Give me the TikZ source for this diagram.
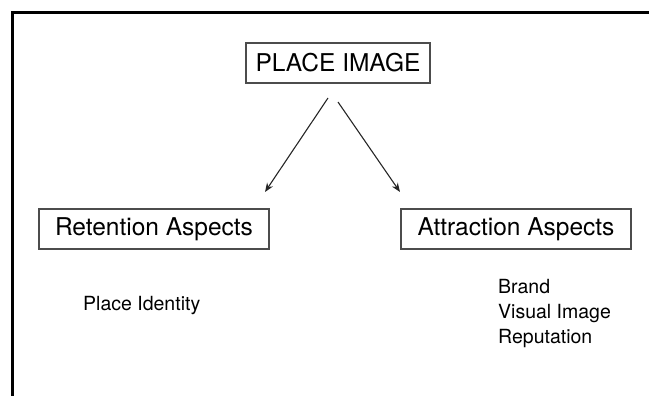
\documentclass[tikz,border=0pt]{standalone}
\usepackage{fontspec}
\setmainfont{TeX Gyre Heros}
\usetikzlibrary{arrows.meta}
\begin{document}
\begin{tikzpicture}[x=1pt,y=-1pt,
  box/.style={draw=black!70, line width=1.2pt, inner sep=0pt,
    minimum height=40pt, font=\fontsize{24.5}{29}\selectfont},
  item/.style={anchor=base west, inner sep=0pt,
    font=\fontsize{19.5}{23}\selectfont},
  link/.style={line width=1.1pt, draw=black!85,
    -{Stealth[length=9pt,width=7pt]}}]
\useasboundingbox (0,0) rectangle (649,396);
\clip (0,0) rectangle (649,396);
% outer frame (only top and left edges fall inside the page)
\draw[line width=3pt] (12.5,400) -- (12.5,12.5) -- (655,12.5);

% boxes
\node[box, minimum width=184pt] (img) at (338,63) {PLACE IMAGE};
\node[box, minimum width=230pt] (ret) at (154,229) {Retention Aspects};
\node[box, minimum width=230pt] (att) at (516,229) {Attraction Aspects};

% arrow end points
\coordinate (ls) at (328,98);
\coordinate (le) at (265,192);
\coordinate (rs) at (338,102);
\coordinate (re) at (400,192);
\draw[link] (ls) -- (le);
\draw[link] (rs) -- (re);

% item lists
\node[item] (pid) at (83,310) {Place Identity};
\node[item] (brand) at (498,293) {Brand};
\node[item] (vis) at (498,318) {Visual Image};
\node[item] (rep) at (498,343) {Reputation};
\end{tikzpicture}
\end{document}
